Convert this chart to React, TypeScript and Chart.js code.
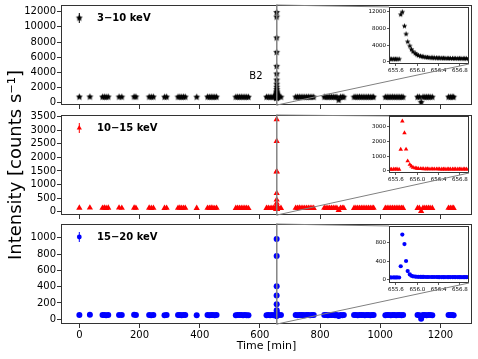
import React, { useEffect, useRef } from 'react';
import { Chart, registerables } from 'chart.js';

Chart.register(...registerables);
Chart.defaults.font.family = "'DejaVu Sans', sans-serif";
Chart.defaults.color = '#000';

// ---------------- data ----------------
const BASE_T = [
  0,
  35,
  77, 83, 89, 96,
  132, 141,
  182, 188,
  232, 239, 246,
  283, 290,
  328, 334, 340, 346, 352,
  390,
  426, 432, 438, 444, 450, 456,
  520, 526, 532, 538, 544, 550, 556, 562,
  622, 628, 634, 640, 646, 652, 662, 670,
  719, 725, 731, 737, 743, 749, 755, 761, 767, 773, 779,
  814, 820, 826, 832, 838, 844, 850, 856, 862, 868, 874, 879,
  913, 919, 925, 931, 937, 943, 949, 955, 961, 967, 973, 978,
  1017, 1023, 1029, 1035, 1041, 1047, 1053, 1059, 1065, 1071, 1076,
  1124, 1130, 1136, 1142, 1148, 1154, 1160, 1166, 1173,
  1227, 1233, 1239, 1244,
];
const BASE_3_10 = [
  760,
  770,
  750, 760, 745, 755,
  760, 750,
  775, 765,
  760, 750, 755,
  740, 750,
  750, 760, 745, 755, 750,
  745,
  755, 745, 760, 750, 740, 750,
  740, 750, 745, 755, 740, 750, 745, 735,
  740, 750, 735, 745, 740, 730, 760, 745,
  750, 740, 755, 745, 750, 740, 745, 755, 740, 750, 745,
  750, 745, 740, 755, 745, 750, 740, 745, 350, 750, 740, 745,
  745, 750, 740, 755, 745, 750, 740, 745, 750, 740, 745, 750,
  740, 750, 745, 740, 755, 745, 740, 750, 745, 740, 745,
  745, 740, 60, 750, 745, 740, 750, 745, 740,
  750, 745, 755, 740,
];
const BASE_10_15 = [
  140,
  145,
  135, 140, 130, 140,
  145, 135,
  140, 135,
  140, 130, 138,
  132, 138,
  135, 140, 130, 138, 135,
  132,
  138, 130, 140, 135, 128, 135,
  130, 136, 132, 138, 130, 135, 132, 128,
  130, 136, 128, 134, 130, 126, 140, 132,
  136, 130, 140, 132, 136, 130, 132, 138, 130, 135, 132,
  136, 132, 130, 138, 132, 135, 130, 132, 60, 136, 130, 132,
  132, 136, 130, 138, 132, 135, 130, 132, 136, 130, 132, 136,
  130, 136, 132, 130, 138, 132, 130, 135, 132, 130, 132,
  132, 130, 20, 136, 132, 130, 135, 132, 130,
  136, 132, 138, 130,
];
const BASE_15_20 = [
  52,
  54,
  51, 53, 50, 52,
  53, 51,
  54, 52,
  52, 50, 51,
  50, 52,
  51, 53, 50, 52, 51,
  50,
  52, 50, 53, 51, 49, 51,
  50, 52, 51, 53, 50, 51, 50, 49,
  50, 52, 49, 51, 50, 48, 53, 51,
  52, 50, 53, 51, 52, 50, 51, 53, 50, 52, 51,
  52, 51, 50, 53, 51, 52, 50, 51, 40, 52, 50, 51,
  51, 52, 50, 53, 51, 52, 50, 51, 52, 50, 51, 52,
  50, 52, 51, 50, 53, 51, 50, 52, 51, 50, 51,
  51, 50, 5, 52, 51, 50, 52, 51, 50,
  52, 51, 53, 50,
];

const FLARE_T = [
  655.49, 655.52, 655.56, 655.59, 655.62, 655.66,
  655.69, 655.72, 655.76, 655.79, 655.82, 655.86, 655.89, 655.92, 655.96, 655.99,
  656.02, 656.06, 656.09, 656.12, 656.16, 656.19, 656.22, 656.26, 656.29, 656.32,
  656.36, 656.39, 656.42, 656.46, 656.49, 656.52, 656.56, 656.59, 656.62, 656.66,
  656.69, 656.72, 656.76, 656.79, 656.82, 656.86, 656.89, 656.92, 656.96,
];
const FLARE_3_10 = [
  680, 670, 690, 660, 680, 670,
  11300, 11900, 8550, 6650, 4800, 3800, 3000, 2450, 2050, 1750,
  1520, 1380, 1280, 1200, 1130, 1080, 1040, 1010, 985, 960,
  940, 925, 910, 895, 880, 870, 860, 850, 840, 830,
  825, 820, 815, 810, 805, 800, 800, 795, 790,
];
const FLARE_10_15 = [
  115, 110, 120, 112, 118, 110,
  1475, 3400, 2600, 1480, 680, 440, 320, 240, 200, 175,
  160, 150, 145, 140, 138, 135, 133, 132, 130, 130,
  128, 128, 127, 126, 126, 125, 125, 124, 124, 123,
  123, 122, 122, 122, 121, 121, 120, 120, 120,
];
const FLARE_15_20 = [
  45, 44, 46, 43, 45, 44,
  290, 985, 775, 405, 185, 110, 82, 70, 64, 60,
  58, 57, 56, 56, 55, 55, 55, 54, 54, 54,
  54, 53, 53, 53, 53, 53, 52, 52, 52, 52,
  52, 52, 51, 51, 51, 51, 51, 51, 50,
];

const BAND_LABELS = ['3\u221210 keV', '10\u221215 keV', '15\u221220 keV'];
const X_TICKS = [0, 200, 400, 600, 800, 1000, 1200];
const Y_TICKS = [
  [0, 2000, 4000, 6000, 8000, 10000, 12000],
  [0, 500, 1000, 1500, 2000, 2500, 3000, 3500],
  [0, 200, 400, 600, 800, 1000],
];
const INSET_X_TICKS = [655.6, 656.0, 656.4, 656.8];
const INSET_Y_TICKS = [
  [0, 4000, 8000, 12000],
  [0, 1000, 2000, 3000],
  [0, 400, 800],
];
const B2_LABEL = 'B2';
const B2_AT = [587, 3500];

// ---------------- layout / style ----------------
const W = 478, H = 359;
const PLOT_LEFT = 61, PLOT_RIGHT = 472;
const X_MIN = -61, X_MAX = 1305;
const PANELS = [
  { top: 5, bottom: 105, ymin: -300, ymax: 12880 },
  { top: 115, bottom: 215, ymin: -120, ymax: 3560 },
  { top: 224, bottom: 324, ymin: -58, ymax: 1168 },
];
const INSET_X_MIN = 655.47, INSET_X_MAX = 656.97;
const INSET_BOX = [
  { left: 367, top: 0, ymin: -480, ymax: 13120 },
  { left: 367, top: 109, ymin: -140, ymax: 3750 },
  { left: 367, top: 219, ymin: -77, ymax: 1172 },
];
const INSET_W = 111, INSET_H = 75;
const COLORS = ['#000000', '#ff0000', '#0000ff'];
const SERIES_BASE = [BASE_3_10, BASE_10_15, BASE_15_20];
const SERIES_FLARE = [FLARE_3_10, FLARE_10_15, FLARE_15_20];

function makeStar(color: string, outer: number, ratio: number) {
  const c = document.createElement('canvas');
  const s = Math.ceil(outer * 2) + 1;
  c.width = s; c.height = s;
  const ctx = c.getContext('2d')!;
  ctx.fillStyle = color;
  ctx.beginPath();
  for (let k = 0; k < 10; k++) {
    const r = k % 2 === 0 ? outer : outer * ratio;
    const a = -Math.PI / 2 + (k * Math.PI) / 5;
    const px = s / 2 + r * Math.cos(a), py = s / 2 + r * Math.sin(a);
    if (k === 0) ctx.moveTo(px, py); else ctx.lineTo(px, py);
  }
  ctx.closePath();
  ctx.fill();
  return c;
}

function drawMarker(ctx: CanvasRenderingContext2D, i: number, x: number, y: number, star: HTMLCanvasElement) {
  ctx.fillStyle = COLORS[i];
  if (i === 0) {
    ctx.drawImage(star, x - star.width / 2, y - star.height / 2);
  } else if (i === 1) {
    const r = 3;
    ctx.beginPath();
    ctx.moveTo(x, y - r);
    ctx.lineTo(x + r * 0.866, y + r * 0.5);
    ctx.lineTo(x - r * 0.866, y + r * 0.5);
    ctx.closePath();
    ctx.fill();
  } else {
    ctx.beginPath();
    ctx.arc(x, y, 2.4, 0, Math.PI * 2);
    ctx.fill();
  }
}

const framePlugin = {
  id: 'frame',
  afterDraw(chart: any) {
    const { ctx, chartArea: a } = chart;
    ctx.save();
    ctx.strokeStyle = '#333';
    ctx.lineWidth = 1;
    ctx.strokeRect(a.left + 0.5, a.top + 0.5, a.right - a.left - 1, a.bottom - a.top - 1);
    ctx.restore();
  },
};

const whiteBgPlugin = {
  id: 'whitebg',
  beforeDraw(chart: any) {
    const { ctx, chartArea: a } = chart;
    ctx.save();
    ctx.fillStyle = '#fff';
    ctx.fillRect(a.left, a.top, a.right - a.left, a.bottom - a.top);
    ctx.restore();
  },
};

function annotPlugin(i: number, star: HTMLCanvasElement) {
  return {
    id: 'annot' + i,
    afterDraw(chart: any) {
      const { ctx, chartArea: a } = chart;
      const x = a.left + 18.3, y = a.top + 13;
      ctx.save();
      ctx.strokeStyle = COLORS[i];
      ctx.lineWidth = 1;
      ctx.beginPath();
      ctx.moveTo(x, y - 5);
      ctx.lineTo(x, y + 5);
      ctx.stroke();
      drawMarker(ctx, i, x, y, star);
      ctx.font = "bold 10px 'DejaVu Sans'";
      ctx.fillStyle = '#000';
      ctx.textAlign = 'left';
      ctx.textBaseline = 'middle';
      ctx.fillText(BAND_LABELS[i], a.left + 36, y);
      if (i === 0) {
        ctx.font = "10px 'DejaVu Sans'";
        ctx.textAlign = 'center';
        ctx.fillText(B2_LABEL, chart.scales.x.getPixelForValue(B2_AT[0]), chart.scales.y.getPixelForValue(B2_AT[1]));
      }
      ctx.restore();
    },
  };
}

function pointsOf(t: number[], v: number[]) {
  return t.map((x, k) => ({ x, y: v[k] }));
}

function datasetStyle(i: number, star: HTMLCanvasElement, inset: boolean) {
  if (i === 0) return { pointStyle: star, pointRadius: 3 };
  if (i === 1) return { pointStyle: 'triangle', pointRadius: inset ? 2.6 : 3.6 };
  return { pointStyle: 'circle', pointRadius: inset ? 2.1 : 3 };
}

function mainConfig(i: number, star: HTMLCanvasElement): any {
  const p = PANELS[i];
  const last = i === 2;
  const xH = last ? 29 : 10;
  const data = pointsOf(BASE_T, SERIES_BASE[i]).concat(pointsOf(FLARE_T, SERIES_FLARE[i]));
  return {
    type: 'scatter',
    data: {
      datasets: [{
        data,
        ...datasetStyle(i, star, false),
        backgroundColor: COLORS[i],
        borderColor: COLORS[i],
        borderWidth: 0,
        pointHoverRadius: 0,
      }],
    },
    options: {
      animation: false,
      responsive: false,
      devicePixelRatio: 1,
      events: [],
      layout: { padding: { left: 0, right: W - PLOT_RIGHT, top: p.top, bottom: H - p.bottom - xH } },
      plugins: { legend: { display: false }, tooltip: { enabled: false } },
      scales: {
        x: {
          type: 'linear',
          min: X_MIN,
          max: X_MAX,
          afterBuildTicks: (s: any) => { s.ticks = X_TICKS.map((v) => ({ value: v })); },
          afterFit: (s: any) => { s.height = xH; s.paddingLeft = 0; s.paddingRight = 0; },
          grid: { drawOnChartArea: false, drawTicks: true, tickLength: 4, color: '#333', lineWidth: 1 },
          border: { display: false },
          ticks: { display: last, font: { size: 10 }, color: '#000', padding: 1, maxRotation: 0, autoSkip: false, callback: (v: any) => String(v) },
          title: { display: last, text: 'Time [min]', font: { size: 11 }, color: '#000', padding: { top: 0, bottom: 0 } },
        },
        y: {
          type: 'linear',
          min: p.ymin,
          max: p.ymax,
          afterBuildTicks: (s: any) => { s.ticks = Y_TICKS[i].map((v) => ({ value: v })); },
          afterFit: (s: any) => { s.width = PLOT_LEFT; s.paddingTop = 0; s.paddingBottom = 0; },
          grid: { drawOnChartArea: false, drawTicks: true, tickLength: 4, color: '#333', lineWidth: 1 },
          border: { display: false },
          ticks: { font: { size: 10 }, color: '#000', padding: 1, autoSkip: false, callback: (v: any) => String(v) },
          title: { display: i === 1, text: 'Intensity [counts s\u207B\u00B9]', font: { size: 18 }, color: '#000', padding: { top: 6, bottom: 0 } },
        },
      },
    },
    plugins: [framePlugin, annotPlugin(i, star)],
  };
}

function insetConfig(i: number, star: HTMLCanvasElement): any {
  const b = INSET_BOX[i];
  return {
    type: 'scatter',
    data: {
      datasets: [{
        data: pointsOf(FLARE_T, SERIES_FLARE[i]),
        ...datasetStyle(i, star, true),
        backgroundColor: COLORS[i],
        borderColor: COLORS[i],
        borderWidth: 0,
        pointHoverRadius: 0,
      }],
    },
    options: {
      animation: false,
      responsive: false,
      devicePixelRatio: 1,
      events: [],
      layout: { padding: { left: 2, right: 9, top: 7, bottom: 1 } },
      plugins: { legend: { display: false }, tooltip: { enabled: false } },
      scales: {
        x: {
          type: 'linear',
          min: INSET_X_MIN,
          max: INSET_X_MAX,
          afterBuildTicks: (s: any) => { s.ticks = INSET_X_TICKS.map((v) => ({ value: v })); },
          afterFit: (s: any) => { s.height = 10; s.paddingLeft = 0; s.paddingRight = 0; },
          grid: { drawOnChartArea: false, drawTicks: true, tickLength: 2, color: '#333', lineWidth: 0.8 },
          border: { display: false },
          ticks: { font: { size: 5.5 }, color: '#000', padding: 1, maxRotation: 0, autoSkip: false, callback: (v: any) => Number(v).toFixed(1) },
        },
        y: {
          type: 'linear',
          min: b.ymin,
          max: b.ymax,
          afterBuildTicks: (s: any) => { s.ticks = INSET_Y_TICKS[i].map((v) => ({ value: v })); },
          afterFit: (s: any) => { s.width = 20; s.paddingTop = 0; s.paddingBottom = 0; },
          grid: { drawOnChartArea: false, drawTicks: true, tickLength: 2, color: '#333', lineWidth: 0.8 },
          border: { display: false },
          ticks: { font: { size: 5.5 }, color: '#000', padding: 1, autoSkip: false, callback: (v: any) => String(v) },
        },
      },
    },
    plugins: [whiteBgPlugin, framePlugin],
  };
}

export default function App() {
  const m0 = useRef<HTMLCanvasElement>(null);
  const m1 = useRef<HTMLCanvasElement>(null);
  const m2 = useRef<HTMLCanvasElement>(null);
  const n0 = useRef<HTMLCanvasElement>(null);
  const n1 = useRef<HTMLCanvasElement>(null);
  const n2 = useRef<HTMLCanvasElement>(null);
  const ov = useRef<HTMLCanvasElement>(null);
  const mainRefs = [m0, m1, m2];
  const insetRefs = [n0, n1, n2];

  useEffect(() => {
    const starMain = makeStar('#000', 3.6, 0.5);
    const starInset = makeStar('#000', 2.9, 0.45);
    const mains: Chart[] = [];
    const insets: Chart[] = [];
    for (let i = 0; i < 3; i++) {
      mains.push(new Chart(mainRefs[i].current!, mainConfig(i, starMain)));
      insets.push(new Chart(insetRefs[i].current!, insetConfig(i, starInset)));
    }
    const octx = ov.current!.getContext('2d')!;
    octx.clearRect(0, 0, W, H);
    octx.strokeStyle = '#808080';
    octx.lineWidth = 1;
    for (let i = 0; i < 3; i++) {
      const m: any = mains[i];
      const ins: any = insets[i];
      const ca = m.chartArea;
      const rx0 = m.scales.x.getPixelForValue(INSET_X_MIN);
      const rx1 = m.scales.x.getPixelForValue(INSET_X_MAX);
      const ry0 = Math.max(ca.top, m.scales.y.getPixelForValue(INSET_BOX[i].ymax));
      const ry1 = Math.min(ca.bottom, m.scales.y.getPixelForValue(INSET_BOX[i].ymin));
      const ia = ins.chartArea;
      const ox = INSET_BOX[i].left, oy = INSET_BOX[i].top;
      octx.strokeRect(rx0, ry0, rx1 - rx0, ry1 - ry0);
      octx.beginPath();
      octx.moveTo(rx0, ry0);
      octx.lineTo(ox + ia.left, oy + ia.top);
      octx.moveTo(rx1, ry1);
      octx.lineTo(ox + ia.right, oy + ia.bottom);
      octx.stroke();
    }
    return () => {
      mains.forEach((c) => c.destroy());
      insets.forEach((c) => c.destroy());
    };
  }, []);

  return (
    <div style={{ position: 'fixed', left: 0, top: 0, width: W, height: H, background: '#fff', overflow: 'hidden' }}>
      {mainRefs.map((r, i) => (
        <canvas key={'m' + i} ref={r} width={W} height={H} style={{ position: 'absolute', left: 0, top: 0, width: W, height: H }} />
      ))}
      {insetRefs.map((r, i) => (
        <canvas key={'n' + i} ref={r} width={INSET_W} height={INSET_H}
          style={{ position: 'absolute', left: INSET_BOX[i].left, top: INSET_BOX[i].top, width: INSET_W, height: INSET_H }} />
      ))}
      <canvas ref={ov} width={W} height={H} style={{ position: 'absolute', left: 0, top: 0, width: W, height: H, pointerEvents: 'none' }} />
    </div>
  );
}
